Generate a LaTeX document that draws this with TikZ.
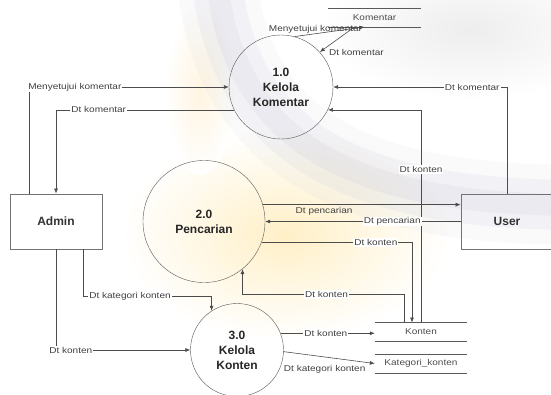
\documentclass[tikz,border=0pt]{standalone}
\usepackage{fontspec}
\setmainfont{Liberation Sans}
\newfontfamily\flowfont{Liberation Sans}[FakeStretch=1.18]
\usetikzlibrary{arrows.meta}

\tikzstyle{process} = [circle,
draw=black!65,
thin,
inner sep=0pt,
align=center,
text=black!85,
font=\fontsize{12}{15}\selectfont\bfseries]
\tikzstyle{entity} = [rectangle,
draw=black!55,
line width=0.8pt,
minimum width=92pt,
minimum height=55pt,
text=black!80,
font=\fontsize{12}{14}\selectfont\bfseries]
\tikzstyle{datastore} = [rectangle,
minimum width=92pt,
minimum height=18.5pt,
inner sep=0pt,
text=black!70,
font=\flowfont\fontsize{8.5}{9}\selectfont]
\tikzstyle{flow} = [fill=white,
inner sep=1pt,
text=black!75,
font=\flowfont\fontsize{8.5}{9}\selectfont]
\tikzstyle{arrow} = [draw=black!70, line width=0.6pt, -{Latex[length=5pt,width=4pt]}]
\tikzstyle{swoosh} = [draw=blue!15!gray!45, line cap=round]

\begin{document}
\begin{tikzpicture}[x=1pt, y=-1pt]
\useasboundingbox (0,0) rectangle (551,394);

% background of the slide
\shade [inner color=gray!14, outer color=white] (470,30) ellipse (150 and 70);
\shade [inner color=yellow!45!orange!22, outer color=white] (285,235) ellipse (165 and 105);
\shade [inner color=yellow!30!orange!12, outer color=white] (200,90) ellipse (35 and 85);
\draw [swoosh, line width=80pt, opacity=0.08] (215,-40) .. controls (225,130) and (330,205) .. (580,205);
\draw [swoosh, line width=50pt, opacity=0.12] (215,-40) .. controls (225,130) and (330,205) .. (580,205);
\draw [swoosh, line width=22pt, opacity=0.15] (215,-40) .. controls (225,130) and (330,205) .. (580,205);

% Nodes
\node (proc1) [process, minimum size=104pt] at (281,87) {1.0\\Kelola\\Komentar};
\node (proc2) [process, minimum size=122pt] at (204,221.5) {2.0\\Pencarian};
\node (proc3) [process, minimum size=93pt] at (237,350) {3.0\\Kelola\\Konten};

\node (admin) [entity] at (56,221.5) {Admin};
\node (user) [entity] at (507,221.5) {User};

\node (komentar) [datastore] at (374.5,17.5) {Komentar};
\node (konten) [datastore] at (421,332) {Konten};
\node (kategori) [datastore] at (421,363.5) {Kategori\_konten};

% store lines
\foreach \s in {komentar, konten, kategori}
  \draw [black!65, line width=0.8pt] (\s.north west) -- (\s.north east) (\s.south west) -- (\s.south east);

% Connections
\draw [arrow] ([xshift=-27pt]admin.north) |- node[flow, pos=0.5, anchor=west, xshift=-2pt] {Menyetujui komentar} (proc1.west);
\draw [arrow] (proc1.206) -| node[flow, pos=0.38] {Dt komentar} (admin.north);

\draw [arrow] (proc1.75) -- node[flow, fill=none, pos=0.3, yshift=4pt] {Menyetujui komentar} ([xshift=-10pt]komentar.south);
\draw [arrow] ([xshift=-20pt]komentar.south) -- node[flow, fill=none, pos=1, anchor=west, xshift=8pt] {Dt komentar} (proc1.42);

\draw [arrow] (user.north) |- node[flow, pos=0.6] {Dt komentar} (proc1.east);
\draw [arrow] (konten.north) |- node[flow, pos=0.36] {Dt konten} (proc1.-26);

\draw [arrow] (proc2.16) -- node[flow, fill=none, pos=0.31, below=1pt] {Dt pencarian} (proc2.16 -| user.west);
\draw [arrow] (user.west) -- node[flow, pos=0.35] {Dt pencarian} (proc2.east);

\draw [arrow] (proc2.-20) -| node[flow, pos=0.38] {Dt konten} ([xshift=-9pt]konten.north);
\draw [arrow] ([xshift=-17pt]konten.north) -- ++(0,-28) -| node[flow, pos=0.24] {Dt konten} (proc2.-51.5);

\draw [arrow] ([xshift=27pt]admin.south) -- ++(0,47) -| node[flow, pos=0, anchor=west, xshift=5pt] {Dt kategori konten} (proc3.123);
\draw [arrow] (admin.south) |- node[flow, pos=0.5, anchor=west, xshift=-8pt] {Dt konten} (proc3.west);

\draw [arrow] (proc3.21) -- node[flow, pos=0.48] {Dt konten} (proc3.21 -| konten.west);
\draw [arrow] (proc3.-2) -- node[flow, fill=none, pos=0.45, below=7pt] {Dt kategori konten} (kategori.west);

\end{tikzpicture}
\end{document}
